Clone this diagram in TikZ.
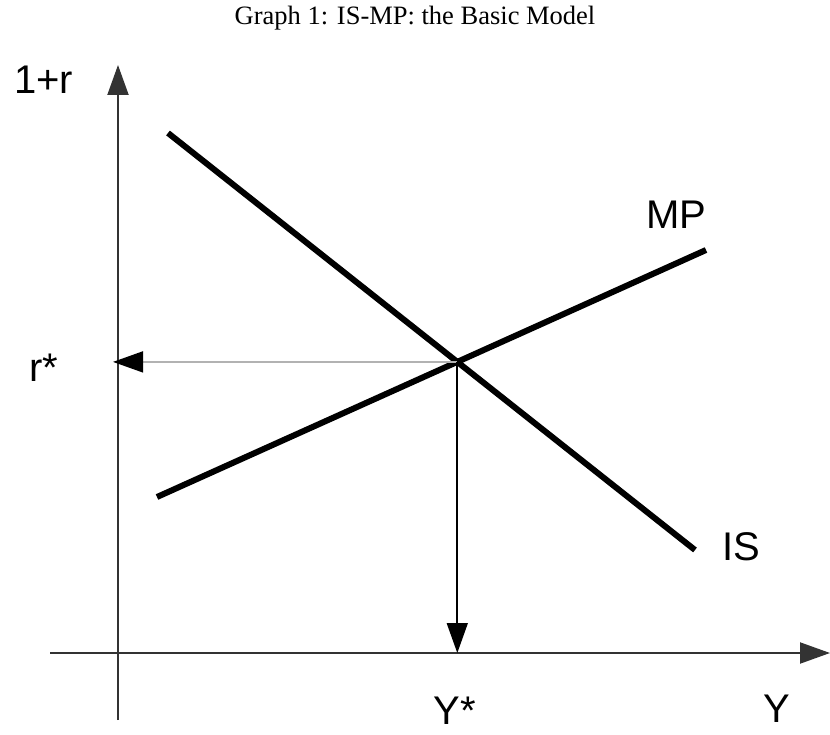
\documentclass[tikz,border=0pt]{standalone}
\usepackage{fontspec}
\setmainfont{Liberation Serif}
\newfontfamily\arialfont{Liberation Sans}
\usetikzlibrary{arrows.meta}
\begin{document}
\begin{tikzpicture}[x=1pt,y=-1pt,
  axis/.style={line width=2pt,draw=black!80,-{Triangle[length=30pt,width=21pt]}},
  curve/.style={line width=6pt,draw=black},
  lbl/.style={font=\arialfont\fontsize{40}{40}\selectfont,inner sep=0pt,text=black},
  guide/.style={line width=1.6pt,-{Triangle[length=30pt,width=21pt]}}]
\useasboundingbox (0,0) rectangle (830,735);
\node[font=\fontsize{26.5}{26.5}\selectfont] (title) at (415,18) {Graph 1: IS-MP: the Basic Model};
% axes
\coordinate (yb) at (118,720);
\coordinate (yt) at (118,65);
\coordinate (xl) at (50,653);
\coordinate (xr) at (830,653);
\draw[axis] (yb) -- (yt);
\draw[axis] (xl) -- (xr);
% curves
\coordinate (is1) at (168,133);
\coordinate (is2) at (695,550);
\coordinate (mp1) at (157,497);
\coordinate (mp2) at (706,250);
\draw[curve] (is1) -- (is2);
\draw[curve] (mp1) -- (mp2);
\coordinate (eq) at (intersection of is1--is2 and mp1--mp2);
\coordinate (rs) at (113,0 |- eq);
\coordinate (ys) at (eq |- xr);
\draw[guide,draw=black!30,-{Triangle[length=30pt,width=21pt,fill=black,color=black]}] (eq) -- (rs);
\draw[guide,draw=black] (eq) -- (ys);
% labels
\node[lbl,anchor=west] (l1r) at (14,80) {1+r};
\node[lbl] (lrs) at (44,368) {r*};
\node[lbl] (lmp) at (676,215) {MP};
\node[lbl] (lis) at (741,547) {IS};
\node[lbl] (lys) at (455,711) {Y*};
\node[lbl] (ly) at (777,709) {Y};
\end{tikzpicture}
\end{document}
